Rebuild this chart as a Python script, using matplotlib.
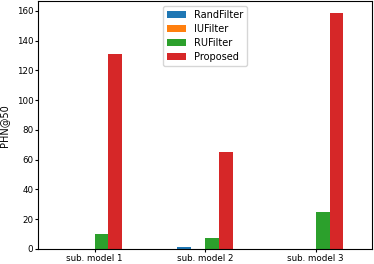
import numpy as np
import matplotlib
matplotlib.use("Agg")
import matplotlib.pyplot as plt

models = ["sub. model 1", "sub. model 2", "sub. model 3"]
rand_filter = [0.3, 1.0, 0.2]
iu_filter = [0.2, 0.2, 0.2]
ru_filter = [10, 7.5, 25]
proposed = [131, 65, 158.5]

series = [("RandFilter", rand_filter, "#1f77b4"),
          ("IUFilter", iu_filter, "#ff7f0e"),
          ("RUFilter", ru_filter, "#2ca02c"),
          ("Proposed", proposed, "#d62728")]

fs = 6.3
fig, ax = plt.subplots(figsize=(3.74, 2.64), dpi=100)
fig.subplots_adjust(left=0.102, right=0.995, top=0.995, bottom=0.057)

x = np.arange(len(models))
w = 0.125
for i, (name, vals, col) in enumerate(series):
    ax.bar(x + (i - 2) * w, vals, w, align="edge", color=col, label=name)

ax.set_xticks(x)
ax.set_xticklabels(models)
ax.tick_params(labelsize=fs, length=2, pad=1.5)
ax.set_xlim(-0.51, 2.51)
ax.set_ylabel("PHN@50", fontsize=7, labelpad=5)
ax.legend(loc="upper center", fontsize=7, labelspacing=0.4)

fig.savefig("out.png", dpi=100)
